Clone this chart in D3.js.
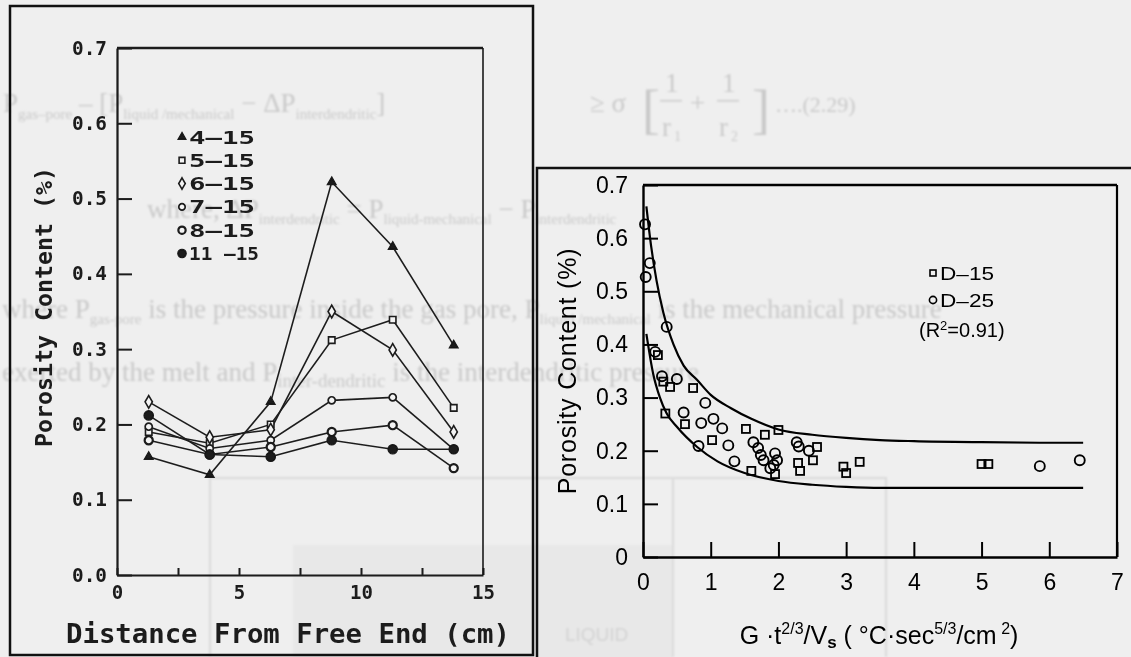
<!DOCTYPE html>
<html>
<head>
<meta charset="utf-8">
<script src="https://cdn.jsdelivr.net/npm/d3@7"></script>
<style>
  html, body { margin: 0; padding: 0; background: #efefef; }
  svg { display: block; }
</style>
</head>
<body>
<svg id="fig" width="1131" height="657"></svg>
<script>
// ---------- Left figure: porosity along the bar for each casting ----------
const distance = [1.3, 3.8, 6.3, 8.8, 11.3, 13.8];
const seriesNames = ["4\u201415", "5\u201415", "6\u201415", "7\u201415", "8\u201415", "11 \u201315"];
const s4_15  = [0.157, 0.133, 0.230, 0.522, 0.436, 0.305];
const s5_15  = [0.190, 0.175, 0.200, 0.312, 0.339, 0.222];
const s6_15  = [0.230, 0.183, 0.193, 0.350, 0.299, 0.190];
const s7_15  = [0.197, 0.168, 0.179, 0.232, 0.236, 0.167];
const s8_15  = [0.179, 0.160, 0.170, 0.190, 0.199, 0.142];
const s11_15 = [0.212, 0.160, 0.157, 0.179, 0.167, 0.167];
const leftYTicks = [0, 0.1, 0.2, 0.3, 0.4, 0.5, 0.6, 0.7];
const leftXTicks = [0, 2.5, 5, 7.5, 10, 12.5, 15];

// ---------- Right figure: porosity against the thermal parameter ----------
const d15X = [0.22, 0.30, 0.40, 0.74, 0.33, 0.62, 1.02, 1.52, 1.80, 2.00, 1.60, 1.95, 2.57, 2.51, 2.29, 2.32, 2.96, 3.00, 3.20, 5.00, 5.10];
const d15Y = [0.380, 0.330, 0.320, 0.318, 0.270, 0.250, 0.220, 0.241, 0.230, 0.239, 0.162, 0.156, 0.207, 0.182, 0.177, 0.162, 0.170, 0.158, 0.179, 0.175, 0.175];
const d25X = [0.03, 0.10, 0.04, 0.35, 0.18, 0.28, 0.50, 0.92, 0.60, 0.86, 1.04, 1.17, 0.82, 1.26, 1.35, 1.63, 1.70, 1.74, 1.78, 1.95, 1.98, 1.93, 1.88, 2.27, 2.30, 2.45, 5.86, 6.45];
const d25Y = [0.626, 0.553, 0.527, 0.433, 0.386, 0.340, 0.335, 0.290, 0.272, 0.252, 0.260, 0.242, 0.209, 0.210, 0.180, 0.216, 0.205, 0.192, 0.182, 0.195, 0.182, 0.173, 0.167, 0.216, 0.208, 0.200, 0.171, 0.182];
const upperBandX = [0.05, 0.12, 0.2, 0.3, 0.45, 0.6, 0.8, 1.0, 1.3, 1.6, 2.0, 2.5, 3.0, 3.5, 4.0, 5.0, 6.0, 6.5];
const upperBandY = [0.66, 0.585, 0.52, 0.46, 0.40, 0.36, 0.333, 0.305, 0.28, 0.26, 0.24, 0.23, 0.224, 0.22, 0.218, 0.216, 0.215, 0.215];
const lowerBandX = [0.05, 0.15, 0.25, 0.35, 0.5, 0.8, 1.1, 1.5, 2.0, 2.5, 3.0, 3.5, 4.0, 5.0, 6.0, 6.5];
const lowerBandY = [0.42, 0.345, 0.30, 0.27, 0.245, 0.207, 0.18, 0.158, 0.143, 0.136, 0.132, 0.13, 0.13, 0.13, 0.13, 0.13];
const rightYTicks = [0, 0.1, 0.2, 0.3, 0.4, 0.5, 0.6, 0.7];
const rightXTicks = [0, 1, 2, 3, 4, 5, 6, 7];

const svg = d3.select("#fig");
const defs = svg.append("defs");
defs.append("filter").attr("id", "soft").append("feGaussianBlur").attr("stdDeviation", 0.45);
defs.append("filter").attr("id", "faint").append("feGaussianBlur").attr("stdDeviation", 1.0);

svg.append("rect").attr("width", 1131).attr("height", 657).attr("fill", "#efefef");

// ---------- faint page text showing through the sheet ----------
const ghost = svg.append("g").attr("filter", "url(#faint)").attr("fill", "#c9c9c9")
  .style("font-family", "'Liberation Serif', 'DejaVu Serif', serif").style("font-size", "27px");
// lower boxed sketch
const gBox = svg.append("g").attr("filter", "url(#faint)");
gBox.append("rect").attr("x", 293).attr("y", 545).attr("width", 380).attr("height", 120).attr("fill", "#e8e8e8");
gBox.append("path").attr("d", "M210,657 V478 H886 V657 M673,478 V657").attr("fill", "none").attr("stroke", "#dadada").attr("stroke-width", 2);
gBox.append("text").attr("x", 565).attr("y", 641).attr("fill", "#d2d2d2")
  .style("font-family", "'Liberation Sans Narrow', 'Liberation Sans', sans-serif").style("font-size", "19px").text("LIQUID");

{
  const t = ghost.append("text").attr("x", 3).attr("y", 112);
  t.append("tspan").text("P"); t.append("tspan").attr("dy", 7).style("font-size", "15px").text("gas\u2013pore");
  t.append("tspan").attr("dy", -7).text(" \u2013 ");
  t.append("tspan").text("[P"); t.append("tspan").attr("dy", 7).style("font-size", "15px").text("liquid /mechanical");
  t.append("tspan").attr("dy", -7).text(" \u2212 \u0394P");
  t.append("tspan").attr("dy", 7).style("font-size", "15px").text("interdendritic");
  t.append("tspan").attr("dy", -7).text("]");
  ghost.append("text").attr("x", 590).attr("y", 112).text("\u2265 \u03c3");
  ghost.append("text").attr("x", 642).attr("y", 128).style("font-size", "54px").text("[");
  ghost.append("text").attr("x", 665).attr("y", 92).text("1");
  ghost.append("text").attr("x", 662).attr("y", 136).text("r");
  ghost.append("text").attr("x", 674).attr("y", 141).style("font-size", "14px").text("1");
  ghost.append("rect").attr("x", 660).attr("y", 100).attr("width", 22).attr("height", 1.5);
  ghost.append("text").attr("x", 690).attr("y", 112).text("+");
  ghost.append("text").attr("x", 722).attr("y", 92).text("1");
  ghost.append("text").attr("x", 719).attr("y", 136).text("r");
  ghost.append("text").attr("x", 731).attr("y", 141).style("font-size", "14px").text("2");
  ghost.append("rect").attr("x", 717).attr("y", 100).attr("width", 22).attr("height", 1.5);
  ghost.append("text").attr("x", 752).attr("y", 128).style("font-size", "54px").text("]");
  ghost.append("text").attr("x", 775).attr("y", 112).style("font-size", "22px").text("\u2026.(2.29)");
}
{
  const t = ghost.append("text").attr("x", 147).attr("y", 218);
  t.append("tspan").text("where, \u0394P");
  t.append("tspan").attr("dy", 6).style("font-size", "15px").text("interdendritic");
  t.append("tspan").attr("dy", -6).text(" = P");
  t.append("tspan").attr("dy", 6).style("font-size", "15px").text("liquid-mechanical");
  t.append("tspan").attr("dy", -6).text(" \u2212 P");
  t.append("tspan").attr("dy", 6).style("font-size", "15px").text("interdendritic");
}
{
  const t = ghost.append("text").attr("x", 2).attr("y", 318);
  t.append("tspan").text("where P");
  t.append("tspan").attr("dy", 6).style("font-size", "15px").text("gas-pore");
  t.append("tspan").attr("dy", -6).text(" is the pressure inside the gas pore, P");
  t.append("tspan").attr("dy", 6).style("font-size", "15px").text("liquid /mechanical");
  t.append("tspan").attr("dy", -6).text(" is the mechanical pressure");
}
{
  const t = ghost.append("text").attr("x", 2).attr("y", 381);
  t.append("tspan").text("exerted by the melt and P");
  t.append("tspan").attr("dy", 6).style("font-size", "19px").text("inter-dendritic");
  t.append("tspan").attr("dy", -6).text(" is the interdendritic pressure");
}

// ---------- panel borders ----------
svg.append("rect").attr("x", 10).attr("y", 6).attr("width", 523).attr("height", 649)
  .attr("fill", "none").attr("stroke", "#111").attr("stroke-width", 2.5);
svg.append("path").attr("d", "M537,657 V168 H1131").attr("fill", "none").attr("stroke", "#111").attr("stroke-width", 2.5);

// =========================== LEFT CHART ===========================
const monoFont = "'DejaVu Sans Mono', 'Liberation Mono', monospace";
const xL = d3.scaleLinear().domain([0, 15]).range([117, 483]);
const yL = d3.scaleLinear().domain([0, 0.7]).range([575, 48]);
const gL = svg.append("g").attr("filter", "url(#soft)");

const yAxisL = d3.axisLeft(yL).tickValues(leftYTicks).tickFormat(d3.format(".1f"))
  .tickSizeInner(-15).tickSizeOuter(0).tickPadding(10);
const yAxL = gL.append("g").attr("transform", `translate(${xL(0)},0)`).call(yAxisL);
const xAxisL = d3.axisBottom(xL).tickValues(leftXTicks).tickFormat(d => d % 5 === 0 ? d3.format("d")(d) : "")
  .tickSizeInner(-7).tickSizeOuter(0).tickPadding(11);
const xAxL = gL.append("g").attr("transform", `translate(0,${yL(0)})`).call(xAxisL);
[yAxL, xAxL].forEach(ax => {
  ax.select(".domain").attr("stroke", "#1a1a1a").attr("stroke-width", 2.2);
  ax.selectAll(".tick line").attr("stroke", "#1a1a1a").attr("stroke-width", 2);
  ax.selectAll(".tick text").attr("fill", "#1a1a1a")
    .style("font-family", monoFont).style("font-weight", "bold").style("font-size", "19px");
});
yAxL.selectAll(".tick text").attr("textLength", 35).attr("lengthAdjust", "spacingAndGlyphs");
// top and right sides of the frame
gL.append("line").attr("x1", xL(0)).attr("x2", xL(15)).attr("y1", yL(0.7)).attr("y2", yL(0.7))
  .attr("stroke", "#1a1a1a").attr("stroke-width", 2.6);
gL.append("line").attr("x1", xL(15)).attr("x2", xL(15)).attr("y1", yL(0.7)).attr("y2", yL(0))
  .attr("stroke", "#1a1a1a").attr("stroke-width", 1.6);

gL.append("text").attr("x", 288).attr("y", 633).attr("text-anchor", "middle").attr("dominant-baseline", "central")
  .attr("fill", "#1a1a1a").style("font-family", monoFont).style("font-weight", "bold").style("font-size", "27px")
  .attr("textLength", 444).attr("lengthAdjust", "spacingAndGlyphs")
  .text("Distance From Free End (cm)");
gL.append("text").attr("transform", "translate(44,307) rotate(-90)").attr("text-anchor", "middle")
  .attr("dominant-baseline", "central").attr("fill", "#1a1a1a")
  .style("font-family", monoFont).style("font-weight", "bold").style("font-size", "23px")
  .attr("textLength", 280).attr("lengthAdjust", "spacingAndGlyphs")
  .text("Porosity Content (%)");

const leftSeries = [s4_15, s5_15, s6_15, s7_15, s8_15, s11_15];
const markerStyle = [
  { type: d3.symbolTriangle, size: 34, fill: "#1a1a1a", sw: 1.2 },
  { type: d3.symbolSquare,   size: 42, fill: "#f4f4f4", sw: 1.6 },
  { type: d3.symbolDiamond,  size: 46, fill: "#f4f4f4", sw: 1.6 },
  { type: d3.symbolCircle,   size: 40, fill: "#f4f4f4", sw: 1.7 },
  { type: d3.symbolCircle,   size: 52, fill: "#f4f4f4", sw: 2.2 },
  { type: d3.symbolCircle,   size: 70, fill: "#1a1a1a", sw: 1.2 }
];
const lineL = d3.line().x((d, i) => xL(distance[i])).y(d => yL(d));
leftSeries.forEach(vals => {
  gL.append("path").datum(vals).attr("d", lineL).attr("fill", "none")
    .attr("stroke", "#1f1f1f").attr("stroke-width", 1.6);
});
leftSeries.forEach((vals, k) => {
  const m = markerStyle[k];
  gL.selectAll(null).data(vals).join("path")
    .attr("transform", (d, i) => `translate(${xL(distance[i])},${yL(d)})`)
    .attr("d", d3.symbol().type(m.type).size(m.size))
    .attr("fill", m.fill).attr("stroke", "#1a1a1a").attr("stroke-width", m.sw);
});
// legend
seriesNames.forEach((name, k) => {
  const y = 137 + k * 23.3;
  const m = markerStyle[k];
  gL.append("path").attr("transform", `translate(182,${y})`)
    .attr("d", d3.symbol().type(m.type).size(m.size * 0.8))
    .attr("fill", m.fill).attr("stroke", "#1a1a1a").attr("stroke-width", m.sw);
  gL.append("text").attr("x", 189).attr("y", y).attr("dominant-baseline", "central")
    .attr("fill", "#1a1a1a").style("font-family", monoFont).style("font-weight", "bold").style("font-size", "18px")
    .attr("textLength", k === 5 ? 70 : 66).attr("lengthAdjust", "spacingAndGlyphs")
    .text(name);
});

// =========================== RIGHT CHART ===========================
const sansFont = "'Liberation Sans', Arial, sans-serif";
const xR = d3.scaleLinear().domain([0, 7]).range([643, 1117]);
const yR = d3.scaleLinear().domain([0, 0.7]).range([557, 185]);
const gR = svg.append("g").attr("filter", "url(#soft)");

const yAxisR = d3.axisLeft(yR).tickValues(rightYTicks)
  .tickFormat(d => d === 0 ? "0" : d3.format(".1f")(d))
  .tickSizeInner(-15).tickSizeOuter(0).tickPadding(15);
const yAxR = gR.append("g").attr("transform", `translate(${xR(0)},0)`).call(yAxisR);
const xAxisR = d3.axisBottom(xR).tickValues(rightXTicks).tickFormat(d3.format("d"))
  .tickSizeInner(-15).tickSizeOuter(0).tickPadding(17);
const xAxR = gR.append("g").attr("transform", `translate(0,${yR(0)})`).call(xAxisR);
[yAxR, xAxR].forEach(ax => {
  ax.select(".domain").attr("stroke", "#000").attr("stroke-width", 2.4);
  ax.selectAll(".tick line").attr("stroke", "#000").attr("stroke-width", 2);
  ax.selectAll(".tick text").attr("fill", "#000")
    .style("font-family", sansFont).style("font-size", "23px");
});
gR.append("line").attr("x1", xR(0)).attr("x2", xR(7)).attr("y1", yR(0.7)).attr("y2", yR(0.7))
  .attr("stroke", "#000").attr("stroke-width", 2.4);
gR.append("line").attr("x1", xR(7)).attr("x2", xR(7)).attr("y1", yR(0.7)).attr("y2", yR(0))
  .attr("stroke", "#000").attr("stroke-width", 2.2);

// axis titles
gR.append("text").attr("transform", "translate(567,371) rotate(-90)").attr("text-anchor", "middle")
  .attr("dominant-baseline", "central").attr("fill", "#000")
  .style("font-family", sansFont).style("font-size", "25px").style("letter-spacing", "0.8px")
  .text("Porosity Content (%)");
{
  const t = gR.append("text").attr("x", 879).attr("y", 644).attr("text-anchor", "middle").attr("fill", "#000")
    .style("font-family", sansFont).style("font-size", "25px");
  t.append("tspan").text("G \u00b7t");
  t.append("tspan").attr("dy", -10).style("font-size", "16px").text("2/3");
  t.append("tspan").attr("dy", 10).text("/V");
  t.append("tspan").attr("dy", 4).style("font-size", "17px").style("font-weight", "bold").text("s");
  t.append("tspan").attr("dy", -4).text(" ( \u00b0C\u00b7sec");
  t.append("tspan").attr("dy", -10).style("font-size", "16px").text("5/3");
  t.append("tspan").attr("dy", 10).text("/cm");
  t.append("tspan").attr("dy", -10).style("font-size", "16px").text(" 2");
  t.append("tspan").attr("dy", 10).text(")");
}

// clip for the band curves
defs.append("clipPath").attr("id", "plotR").append("rect")
  .attr("x", xR(0)).attr("y", yR(0.7)).attr("width", xR(7) - xR(0)).attr("height", yR(0) - yR(0.7));
const bandLine = d3.line().curve(d3.curveMonotoneX);
gR.append("path").attr("clip-path", "url(#plotR)")
  .attr("d", bandLine(upperBandX.map((x, i) => [xR(x), yR(upperBandY[i])])))
  .attr("fill", "none").attr("stroke", "#000").attr("stroke-width", 2.2);
gR.append("path").attr("clip-path", "url(#plotR)")
  .attr("d", bandLine(lowerBandX.map((x, i) => [xR(x), yR(lowerBandY[i])])))
  .attr("fill", "none").attr("stroke", "#000").attr("stroke-width", 2.2);

// data points
gR.selectAll(null).data(d15X).join("rect")
  .attr("x", d => xR(d) - 4).attr("y", (d, i) => yR(d15Y[i]) - 4)
  .attr("width", 8).attr("height", 8)
  .attr("fill", "none").attr("stroke", "#000").attr("stroke-width", 1.8);
gR.selectAll(null).data(d25X).join("circle")
  .attr("cx", d => xR(d)).attr("cy", (d, i) => yR(d25Y[i])).attr("r", 5)
  .attr("fill", "none").attr("stroke", "#000").attr("stroke-width", 1.9);

// legend
gR.append("rect").attr("x", 930).attr("y", 270).attr("width", 6).attr("height", 6)
  .attr("fill", "none").attr("stroke", "#000").attr("stroke-width", 1.6);
gR.append("text").attr("x", 940).attr("y", 273).attr("dominant-baseline", "central").attr("fill", "#000")
  .style("font-family", sansFont).style("font-size", "19px")
  .attr("textLength", 54).attr("lengthAdjust", "spacingAndGlyphs").text("D\u201315");
gR.append("circle").attr("cx", 933).attr("cy", 300).attr("r", 3.6)
  .attr("fill", "none").attr("stroke", "#000").attr("stroke-width", 1.6);
gR.append("text").attr("x", 940).attr("y", 300).attr("dominant-baseline", "central").attr("fill", "#000")
  .style("font-family", sansFont).style("font-size", "19px")
  .attr("textLength", 54).attr("lengthAdjust", "spacingAndGlyphs").text("D\u201325");
{
  const t = gR.append("text").attr("x", 919).attr("y", 337).attr("fill", "#000")
    .style("font-family", sansFont).style("font-size", "20px");
  t.append("tspan").text("(R");
  t.append("tspan").attr("dy", -7).style("font-size", "13px").text("2");
  t.append("tspan").attr("dy", 7).text("=0.91)");
}
</script>
</body>
</html>
